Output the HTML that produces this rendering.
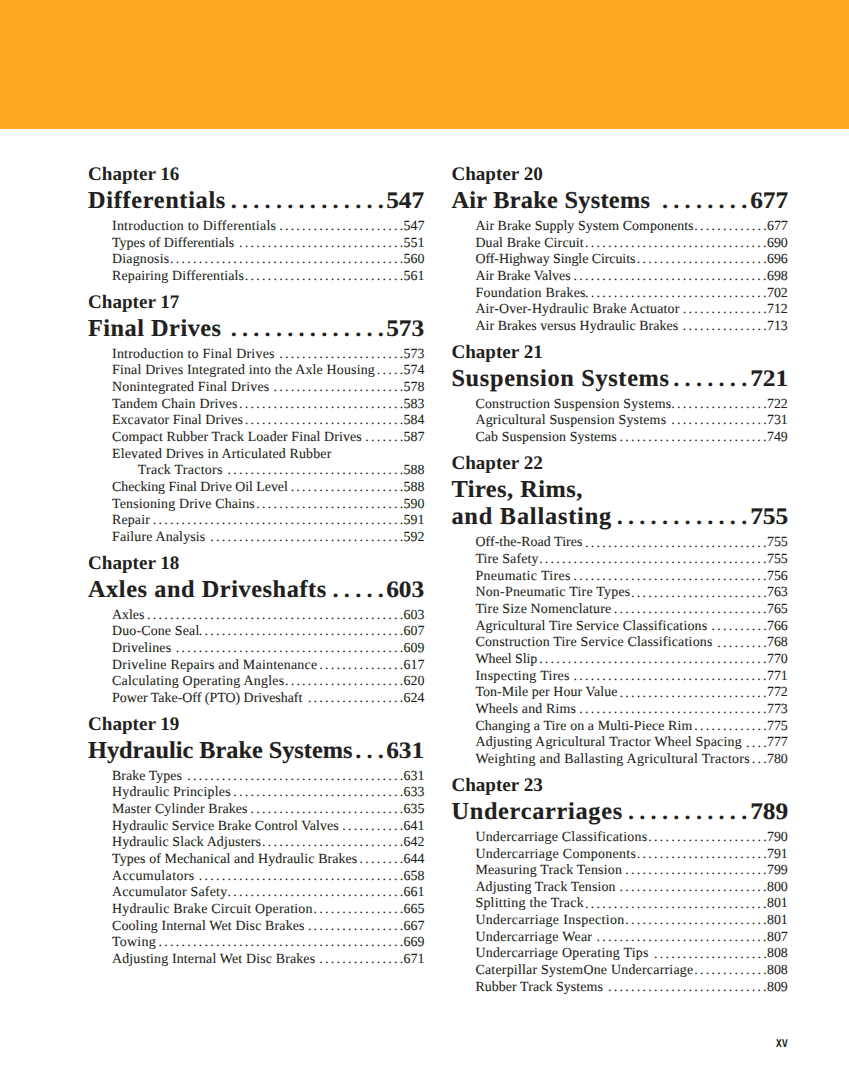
<!DOCTYPE html>
<html><head><meta charset="utf-8"><title>Contents</title><style>
*{margin:0;padding:0}
html,body{width:849px;height:1087px;background:#fff;overflow:hidden}
body{position:relative;font-family:"Liberation Serif",serif;color:#231f20;text-rendering:geometricPrecision}
.bar{position:absolute;left:0;top:0;width:849px;height:128.6px;background:#faa61e}
.ch,.ti,.en{position:absolute;white-space:nowrap}
.ch{font-weight:bold;font-size:19.1px;line-height:24px}
.ti{font-weight:bold;font-size:24.3px;line-height:30px;height:30px;-webkit-text-stroke:0.15px #231f20}
.en{font-size:13.9px;line-height:16px;height:16px;-webkit-text-stroke:0.1px #231f20}
.row b{position:absolute;right:0;top:0;font-weight:inherit;letter-spacing:0}
.en.row b{font-size:13.9px}
.ti.row b{font-size:23.5px;transform:scaleX(1.08);transform-origin:right}
.row i{position:absolute;display:block;font-style:normal;white-space:nowrap;-webkit-text-stroke:0}
.en.row i{top:0.1px;letter-spacing:2.270px}
.ti.row i{top:0.0px;letter-spacing:5.245px}
.pg{position:absolute;left:776px;top:1033px;font-family:"Liberation Sans",sans-serif;font-weight:bold;font-size:14.5px;line-height:20px;letter-spacing:0.6px;transform:scaleX(0.7);transform-origin:left top}
</style></head>
<body>
<div class="bar"></div>
<div class="ch" style="top:163.05px;left:88.00px">Chapter 16</div>
<div class="ti" style="top:185.87px;left:88.00px;letter-spacing:0.683px">Differentials</div>
<div class="ti row" style="top:185.87px;left:88.00px;width:336.40px"><i style="left:142.64px">..............</i><b>547</b></div>
<div class="en" style="top:218.89px;left:112.00px;letter-spacing:0.271px">Introduction to Differentials</div>
<div class="en row" style="top:218.89px;left:88.00px;width:336.40px"><i style="left:191.15px">......................</i><b>547</b></div>
<div class="en" style="top:235.56px;left:112.00px;letter-spacing:0.038px">Types of Differentials</div>
<div class="en row" style="top:235.56px;left:88.00px;width:336.40px"><i style="left:150.94px">.............................</i><b>551</b></div>
<div class="en" style="top:252.22px;left:112.00px;letter-spacing:0.200px">Diagnosis</div>
<div class="en row" style="top:252.22px;left:88.00px;width:336.40px"><i style="left:82.00px">.........................................</i><b>560</b></div>
<div class="en" style="top:268.88px;left:112.00px;letter-spacing:0.173px">Repairing Differentials</div>
<div class="en row" style="top:268.88px;left:88.00px;width:336.40px"><i style="left:156.68px">............................</i><b>561</b></div>
<div class="ch" style="top:290.80px;left:88.00px">Chapter 17</div>
<div class="ti" style="top:313.61px;left:88.00px;letter-spacing:0.500px">Final Drives</div>
<div class="ti row" style="top:313.61px;left:88.00px;width:336.40px"><i style="left:142.64px">..............</i><b>573</b></div>
<div class="en" style="top:346.64px;left:112.00px;letter-spacing:0.259px">Introduction to Final Drives</div>
<div class="en row" style="top:346.64px;left:88.00px;width:336.40px"><i style="left:191.15px">......................</i><b>573</b></div>
<div class="en" style="top:363.30px;left:112.00px;letter-spacing:0.186px">Final Drives Integrated into the Axle Housing</div>
<div class="en row" style="top:363.30px;left:88.00px;width:336.40px"><i style="left:288.82px">.....</i><b>574</b></div>
<div class="en" style="top:379.96px;left:112.00px;letter-spacing:0.208px">Nonintegrated Final Drives</div>
<div class="en row" style="top:379.96px;left:88.00px;width:336.40px"><i style="left:185.41px">.......................</i><b>578</b></div>
<div class="en" style="top:396.62px;left:112.00px;letter-spacing:0.211px">Tandem Chain Drives</div>
<div class="en row" style="top:396.62px;left:88.00px;width:336.40px"><i style="left:150.94px">.............................</i><b>583</b></div>
<div class="en" style="top:413.28px;left:112.00px;letter-spacing:0.095px">Excavator Final Drives</div>
<div class="en row" style="top:413.28px;left:88.00px;width:336.40px"><i style="left:156.68px">............................</i><b>584</b></div>
<div class="en" style="top:429.95px;left:112.00px;letter-spacing:0.123px">Compact Rubber Track Loader Final Drives</div>
<div class="en row" style="top:429.95px;left:88.00px;width:336.40px"><i style="left:277.33px">.......</i><b>587</b></div>
<div class="en" style="top:446.61px;left:112.00px;letter-spacing:0.178px">Elevated Drives in Articulated Rubber</div>
<div class="en" style="top:463.27px;left:137.80px;letter-spacing:0.277px">Track Tractors</div>
<div class="en row" style="top:463.27px;left:88.00px;width:336.40px"><i style="left:139.45px">...............................</i><b>588</b></div>
<div class="en" style="top:479.93px;left:112.00px;letter-spacing:-0.028px">Checking Final Drive Oil Level</div>
<div class="en row" style="top:479.93px;left:88.00px;width:336.40px"><i style="left:202.64px">....................</i><b>588</b></div>
<div class="en" style="top:496.59px;left:112.00px;letter-spacing:0.182px">Tensioning Drive Chains</div>
<div class="en row" style="top:496.59px;left:88.00px;width:336.40px"><i style="left:168.17px">..........................</i><b>590</b></div>
<div class="en" style="top:513.26px;left:112.00px;letter-spacing:0.160px">Repair</div>
<div class="en row" style="top:513.26px;left:88.00px;width:336.40px"><i style="left:64.76px">............................................</i><b>591</b></div>
<div class="en" style="top:529.92px;left:112.00px;letter-spacing:0.173px">Failure Analysis</div>
<div class="en row" style="top:529.92px;left:88.00px;width:336.40px"><i style="left:122.21px">..................................</i><b>592</b></div>
<div class="ch" style="top:551.83px;left:88.00px">Chapter 18</div>
<div class="ti" style="top:574.65px;left:88.00px;letter-spacing:0.570px">Axles and Driveshafts</div>
<div class="ti row" style="top:574.65px;left:88.00px;width:336.40px"><i style="left:244.52px">.....</i><b>603</b></div>
<div class="en" style="top:607.67px;left:112.00px;letter-spacing:-0.000px">Axles</div>
<div class="en row" style="top:607.67px;left:88.00px;width:336.40px"><i style="left:59.02px">.............................................</i><b>603</b></div>
<div class="en" style="top:624.34px;left:112.00px;letter-spacing:0.167px">Duo-Cone Seal</div>
<div class="en row" style="top:624.34px;left:88.00px;width:336.40px"><i style="left:110.72px">....................................</i><b>607</b></div>
<div class="en" style="top:641.00px;left:112.00px;letter-spacing:0.133px">Drivelines</div>
<div class="en row" style="top:641.00px;left:88.00px;width:336.40px"><i style="left:87.74px">........................................</i><b>609</b></div>
<div class="en" style="top:657.66px;left:112.00px;letter-spacing:0.250px">Driveline Repairs and Maintenance</div>
<div class="en row" style="top:657.66px;left:88.00px;width:336.40px"><i style="left:231.37px">...............</i><b>617</b></div>
<div class="en" style="top:674.32px;left:112.00px;letter-spacing:0.259px">Calculating Operating Angles</div>
<div class="en row" style="top:674.32px;left:88.00px;width:336.40px"><i style="left:196.90px">.....................</i><b>620</b></div>
<div class="en" style="top:690.98px;left:112.00px;letter-spacing:0.013px">Power Take-Off (PTO) Driveshaft</div>
<div class="en row" style="top:690.98px;left:88.00px;width:336.40px"><i style="left:219.88px">.................</i><b>624</b></div>
<div class="ch" style="top:712.90px;left:88.00px">Chapter 19</div>
<div class="ti" style="top:735.71px;left:88.00px;letter-spacing:-0.009px">Hydraulic Brake Systems</div>
<div class="ti row" style="top:735.71px;left:88.00px;width:336.40px"><i style="left:267.16px">...</i><b>631</b></div>
<div class="en" style="top:768.74px;left:112.00px;letter-spacing:0.060px">Brake Types</div>
<div class="en row" style="top:768.74px;left:88.00px;width:336.40px"><i style="left:99.23px">......................................</i><b>631</b></div>
<div class="en" style="top:785.40px;left:112.00px;letter-spacing:0.211px">Hydraulic Principles</div>
<div class="en row" style="top:785.40px;left:88.00px;width:336.40px"><i style="left:145.19px">..............................</i><b>633</b></div>
<div class="en" style="top:802.06px;left:112.00px;letter-spacing:0.133px">Master Cylinder Brakes</div>
<div class="en row" style="top:802.06px;left:88.00px;width:336.40px"><i style="left:162.43px">...........................</i><b>635</b></div>
<div class="en" style="top:818.73px;left:112.00px;letter-spacing:0.086px">Hydraulic Service Brake Control Valves</div>
<div class="en row" style="top:818.73px;left:88.00px;width:336.40px"><i style="left:254.35px">...........</i><b>641</b></div>
<div class="en" style="top:835.39px;left:112.00px;letter-spacing:0.133px">Hydraulic Slack Adjusters</div>
<div class="en row" style="top:835.39px;left:88.00px;width:336.40px"><i style="left:173.92px">.........................</i><b>642</b></div>
<div class="en" style="top:852.05px;left:112.00px;letter-spacing:0.113px">Types of Mechanical and Hydraulic Brakes</div>
<div class="en row" style="top:852.05px;left:88.00px;width:336.40px"><i style="left:271.58px">........</i><b>644</b></div>
<div class="en" style="top:868.71px;left:112.00px;letter-spacing:0.382px">Accumulators</div>
<div class="en row" style="top:868.71px;left:88.00px;width:336.40px"><i style="left:110.72px">....................................</i><b>658</b></div>
<div class="en" style="top:885.37px;left:112.00px;letter-spacing:0.212px">Accumulator Safety</div>
<div class="en row" style="top:885.37px;left:88.00px;width:336.40px"><i style="left:139.45px">...............................</i><b>661</b></div>
<div class="en" style="top:902.04px;left:112.00px;letter-spacing:0.225px">Hydraulic Brake Circuit Operation</div>
<div class="en row" style="top:902.04px;left:88.00px;width:336.40px"><i style="left:225.62px">................</i><b>665</b></div>
<div class="en" style="top:918.70px;left:112.00px;letter-spacing:0.155px">Cooling Internal Wet Disc Brakes</div>
<div class="en row" style="top:918.70px;left:88.00px;width:336.40px"><i style="left:219.88px">.................</i><b>667</b></div>
<div class="en" style="top:935.36px;left:112.00px;letter-spacing:0.280px">Towing</div>
<div class="en row" style="top:935.36px;left:88.00px;width:336.40px"><i style="left:70.51px">...........................................</i><b>669</b></div>
<div class="en" style="top:952.02px;left:112.00px;letter-spacing:0.164px">Adjusting Internal Wet Disc Brakes</div>
<div class="en row" style="top:952.02px;left:88.00px;width:336.40px"><i style="left:231.37px">...............</i><b>671</b></div>
<div class="ch" style="top:163.05px;left:451.40px">Chapter 20</div>
<div class="ti" style="top:185.87px;left:451.40px;letter-spacing:0.287px">Air Brake Systems</div>
<div class="ti row" style="top:185.87px;left:451.40px;width:336.40px"><i style="left:210.56px">........</i><b>677</b></div>
<div class="en" style="top:218.89px;left:475.40px;letter-spacing:0.061px">Air Brake Supply System Components</div>
<div class="en row" style="top:218.89px;left:451.40px;width:336.40px"><i style="left:242.86px">.............</i><b>677</b></div>
<div class="en" style="top:235.56px;left:475.40px;letter-spacing:0.153px">Dual Brake Circuit</div>
<div class="en row" style="top:235.56px;left:451.40px;width:336.40px"><i style="left:133.70px">................................</i><b>690</b></div>
<div class="en" style="top:252.22px;left:475.40px;letter-spacing:-0.038px">Off-Highway Single Circuits</div>
<div class="en row" style="top:252.22px;left:451.40px;width:336.40px"><i style="left:185.41px">.......................</i><b>696</b></div>
<div class="en" style="top:268.88px;left:475.40px;letter-spacing:-0.013px">Air Brake Valves</div>
<div class="en row" style="top:268.88px;left:451.40px;width:336.40px"><i style="left:122.21px">..................................</i><b>698</b></div>
<div class="en" style="top:285.54px;left:475.40px;letter-spacing:0.300px">Foundation Brakes</div>
<div class="en row" style="top:285.54px;left:451.40px;width:336.40px"><i style="left:133.70px">................................</i><b>702</b></div>
<div class="en" style="top:302.20px;left:475.40px;letter-spacing:0.169px">Air-Over-Hydraulic Brake Actuator</div>
<div class="en row" style="top:302.20px;left:451.40px;width:336.40px"><i style="left:231.37px">...............</i><b>712</b></div>
<div class="en" style="top:318.87px;left:475.40px;letter-spacing:0.067px">Air Brakes versus Hydraulic Brakes</div>
<div class="en row" style="top:318.87px;left:451.40px;width:336.40px"><i style="left:231.37px">...............</i><b>713</b></div>
<div class="ch" style="top:340.78px;left:451.40px">Chapter 21</div>
<div class="ti" style="top:363.60px;left:451.40px;letter-spacing:0.688px">Suspension Systems</div>
<div class="ti row" style="top:363.60px;left:451.40px;width:336.40px"><i style="left:221.88px">.......</i><b>721</b></div>
<div class="en" style="top:396.62px;left:475.40px;letter-spacing:0.247px">Construction Suspension Systems</div>
<div class="en row" style="top:396.62px;left:451.40px;width:336.40px"><i style="left:219.88px">.................</i><b>722</b></div>
<div class="en" style="top:413.28px;left:475.40px;letter-spacing:0.207px">Agricultural Suspension Systems</div>
<div class="en row" style="top:413.28px;left:451.40px;width:336.40px"><i style="left:219.88px">.................</i><b>731</b></div>
<div class="en" style="top:429.95px;left:475.40px;letter-spacing:0.114px">Cab Suspension Systems</div>
<div class="en row" style="top:429.95px;left:451.40px;width:336.40px"><i style="left:168.17px">..........................</i><b>749</b></div>
<div class="ch" style="top:451.86px;left:451.40px">Chapter 22</div>
<div class="ti" style="top:474.68px;left:451.40px;letter-spacing:0.518px">Tires, Rims,</div>
<div class="ti" style="top:502.45px;left:451.40px;letter-spacing:0.808px">and Ballasting</div>
<div class="ti row" style="top:502.45px;left:451.40px;width:336.40px"><i style="left:165.28px">............</i><b>755</b></div>
<div class="en" style="top:535.47px;left:475.40px;letter-spacing:0.071px">Off-the-Road Tires</div>
<div class="en row" style="top:535.47px;left:451.40px;width:336.40px"><i style="left:133.70px">................................</i><b>755</b></div>
<div class="en" style="top:552.13px;left:475.40px;letter-spacing:0.140px">Tire Safety</div>
<div class="en row" style="top:552.13px;left:451.40px;width:336.40px"><i style="left:87.74px">........................................</i><b>755</b></div>
<div class="en" style="top:568.80px;left:475.40px;letter-spacing:0.371px">Pneumatic Tires</div>
<div class="en row" style="top:568.80px;left:451.40px;width:336.40px"><i style="left:122.21px">..................................</i><b>756</b></div>
<div class="en" style="top:585.46px;left:475.40px;letter-spacing:0.243px">Non-Pneumatic Tire Types</div>
<div class="en row" style="top:585.46px;left:451.40px;width:336.40px"><i style="left:179.66px">........................</i><b>763</b></div>
<div class="en" style="top:602.12px;left:475.40px;letter-spacing:0.171px">Tire Size Nomenclature</div>
<div class="en row" style="top:602.12px;left:451.40px;width:336.40px"><i style="left:162.43px">...........................</i><b>765</b></div>
<div class="en" style="top:618.78px;left:475.40px;letter-spacing:0.190px">Agricultural Tire Service Classifications</div>
<div class="en row" style="top:618.78px;left:451.40px;width:336.40px"><i style="left:260.09px">..........</i><b>766</b></div>
<div class="en" style="top:635.44px;left:475.40px;letter-spacing:0.225px">Construction Tire Service Classifications</div>
<div class="en row" style="top:635.44px;left:451.40px;width:336.40px"><i style="left:265.84px">.........</i><b>768</b></div>
<div class="en" style="top:652.11px;left:475.40px;letter-spacing:-0.022px">Wheel Slip</div>
<div class="en row" style="top:652.11px;left:451.40px;width:336.40px"><i style="left:87.74px">........................................</i><b>770</b></div>
<div class="en" style="top:668.77px;left:475.40px;letter-spacing:0.333px">Inspecting Tires</div>
<div class="en row" style="top:668.77px;left:451.40px;width:336.40px"><i style="left:122.21px">..................................</i><b>771</b></div>
<div class="en" style="top:685.43px;left:475.40px;letter-spacing:0.073px">Ton-Mile per Hour Value</div>
<div class="en row" style="top:685.43px;left:451.40px;width:336.40px"><i style="left:168.17px">..........................</i><b>772</b></div>
<div class="en" style="top:702.09px;left:475.40px;letter-spacing:0.186px">Wheels and Rims</div>
<div class="en row" style="top:702.09px;left:451.40px;width:336.40px"><i style="left:127.96px">.................................</i><b>773</b></div>
<div class="en" style="top:718.75px;left:475.40px;letter-spacing:0.109px">Changing a Tire on a Multi-Piece Rim</div>
<div class="en row" style="top:718.75px;left:451.40px;width:336.40px"><i style="left:242.86px">.............</i><b>775</b></div>
<div class="en" style="top:735.42px;left:475.40px;letter-spacing:0.223px">Adjusting Agricultural Tractor Wheel Spacing</div>
<div class="en row" style="top:735.42px;left:451.40px;width:336.40px"><i style="left:294.56px">....</i><b>777</b></div>
<div class="en" style="top:752.08px;left:475.40px;letter-spacing:0.307px">Weighting and Ballasting Agricultural Tractors</div>
<div class="en row" style="top:752.08px;left:451.40px;width:336.40px"><i style="left:300.31px">...</i><b>780</b></div>
<div class="ch" style="top:773.99px;left:451.40px">Chapter 23</div>
<div class="ti" style="top:796.81px;left:451.40px;letter-spacing:0.715px">Undercarriages</div>
<div class="ti row" style="top:796.81px;left:451.40px;width:336.40px"><i style="left:176.60px">...........</i><b>789</b></div>
<div class="en" style="top:829.83px;left:475.40px;letter-spacing:0.250px">Undercarriage Classifications</div>
<div class="en row" style="top:829.83px;left:451.40px;width:336.40px"><i style="left:196.90px">.....................</i><b>790</b></div>
<div class="en" style="top:846.50px;left:475.40px;letter-spacing:0.322px">Undercarriage Components</div>
<div class="en row" style="top:846.50px;left:451.40px;width:336.40px"><i style="left:185.41px">.......................</i><b>791</b></div>
<div class="en" style="top:863.16px;left:475.40px;letter-spacing:0.227px">Measuring Track Tension</div>
<div class="en row" style="top:863.16px;left:451.40px;width:336.40px"><i style="left:173.92px">.........................</i><b>799</b></div>
<div class="en" style="top:879.82px;left:475.40px;letter-spacing:0.145px">Adjusting Track Tension</div>
<div class="en row" style="top:879.82px;left:451.40px;width:336.40px"><i style="left:168.17px">..........................</i><b>800</b></div>
<div class="en" style="top:896.48px;left:475.40px;letter-spacing:0.267px">Splitting the Track</div>
<div class="en row" style="top:896.48px;left:451.40px;width:336.40px"><i style="left:133.70px">................................</i><b>801</b></div>
<div class="en" style="top:913.14px;left:475.40px;letter-spacing:0.348px">Undercarriage Inspection</div>
<div class="en row" style="top:913.14px;left:451.40px;width:336.40px"><i style="left:173.92px">.........................</i><b>801</b></div>
<div class="en" style="top:929.81px;left:475.40px;letter-spacing:0.294px">Undercarriage Wear</div>
<div class="en row" style="top:929.81px;left:451.40px;width:336.40px"><i style="left:145.19px">..............................</i><b>807</b></div>
<div class="en" style="top:946.47px;left:475.40px;letter-spacing:0.267px">Undercarriage Operating Tips</div>
<div class="en row" style="top:946.47px;left:451.40px;width:336.40px"><i style="left:202.64px">....................</i><b>808</b></div>
<div class="en" style="top:963.13px;left:475.40px;letter-spacing:0.235px">Caterpillar SystemOne Undercarriage</div>
<div class="en row" style="top:963.13px;left:451.40px;width:336.40px"><i style="left:242.86px">.............</i><b>808</b></div>
<div class="en" style="top:979.79px;left:475.40px;letter-spacing:0.084px">Rubber Track Systems</div>
<div class="en row" style="top:979.79px;left:451.40px;width:336.40px"><i style="left:156.68px">............................</i><b>809</b></div>
<div class="pg">xv</div>
</body></html>
